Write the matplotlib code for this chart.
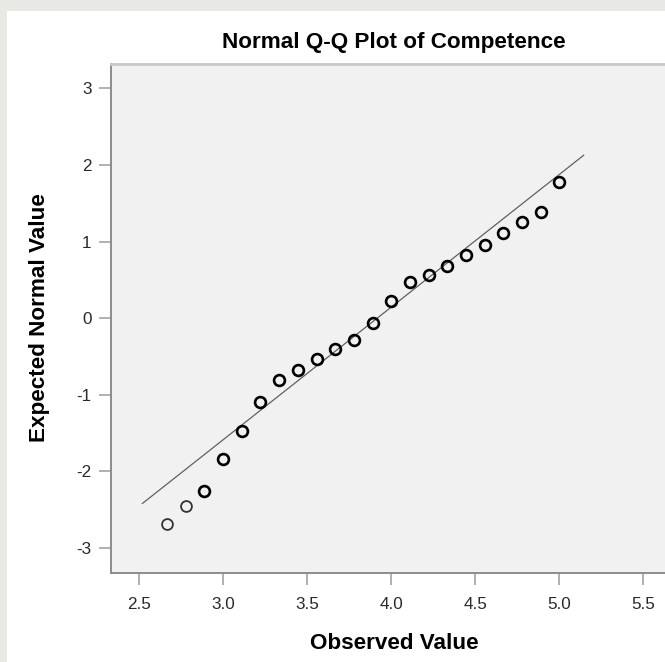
import numpy as np
import matplotlib
matplotlib.use('Agg')
import matplotlib.pyplot as plt
from matplotlib.patches import Rectangle

# Observed competence scores and their expected normal values
observed = [2.667, 2.778, 2.889, 3.000, 3.111, 3.222, 3.333, 3.444, 3.556, 3.667, 3.778,
            3.889, 4.000, 4.111, 4.222, 4.333, 4.444, 4.556, 4.667, 4.778, 4.889, 5.000]
expected = [-2.69, -2.45, -2.26, -1.84, -1.48, -1.10, -0.81, -0.68, -0.54, -0.41, -0.28,
            -0.06, 0.23, 0.47, 0.56, 0.68, 0.82, 0.96, 1.11, 1.25, 1.39, 1.78]

# reference normal line
line_mean = 3.917
line_sd = 0.577
line_x = [2.52, 5.145]

x_ticks = [2.5, 3.0, 3.5, 4.0, 4.5, 5.0, 5.5]
y_ticks = [-3, -2, -1, 0, 1, 2, 3]

font = ['Liberation Sans', 'DejaVu Sans']

W, H = 665, 662
fig = plt.figure(figsize=(W / 100, H / 100), dpi=100)
fig.patch.set_facecolor('#e8e8e5')
fig.add_artist(Rectangle((7 / W, 0), 1.0, 1 - 11 / H, transform=fig.transFigure,
                         facecolor='white', edgecolor='none', zorder=-1))

ax = fig.add_axes([111 / W, 1 - 573 / H, 566 / W, 509 / H])
ax.set_facecolor('#f1f1f1')

ly = [(v - line_mean) / line_sd for v in line_x]
ax.plot(line_x, ly, color='#606060', lw=0.9, zorder=2)

# the two lowest cases are drawn lighter
ax.plot(observed[:2], expected[:2], linestyle='none', marker='o', markersize=7.8,
        markerfacecolor='none', markeredgecolor='#333333', markeredgewidth=1.3, zorder=3)
ax.plot(observed[2:], expected[2:], linestyle='none', marker='o', markersize=7.8,
        markerfacecolor='none', markeredgecolor='black', markeredgewidth=1.9, zorder=3)

ax.set_xlim(2.333, 5.7)
ax.set_ylim(-3.33, 3.32)
ax.set_xticks(x_ticks)
ax.set_yticks(y_ticks)
ax.set_xticklabels([f'{t:.1f}' for t in x_ticks], family=font, fontsize=12.3, color='#2a2a2a')
ax.set_yticklabels([str(t) for t in y_ticks], family=font, fontsize=12.3, color='#2a2a2a')
ax.tick_params(direction='out', length=8.5, width=1.4, color='#b0b0b0')
ax.tick_params(axis='x', pad=9)
ax.tick_params(axis='y', pad=5.5)

ax.spines['right'].set_visible(False)
ax.spines['top'].set_color('#c8c8c8')
ax.spines['top'].set_linewidth(2)
for s in ['left', 'bottom']:
    ax.spines[s].set_color('#8c8c8c')
    ax.spines[s].set_linewidth(1.4)

cx = (111 + 677) / 2 / W
fig.text(cx, 1 - 48 / H, 'Normal Q-Q Plot of Competence', family=font,
         fontweight='bold', fontsize=16.2, ha='center', va='baseline')
fig.text(cx, 1 - 649 / H, 'Observed Value', family=font,
         fontweight='bold', fontsize=16.2, ha='center', va='baseline')
fig.text(45 / W, 1 - 318 / H, 'Expected Normal Value', family=font, fontweight='bold',
         fontsize=16.2, rotation=90, rotation_mode='anchor', ha='center', va='baseline')

fig.savefig('out.png', dpi=100, facecolor=fig.get_facecolor())
